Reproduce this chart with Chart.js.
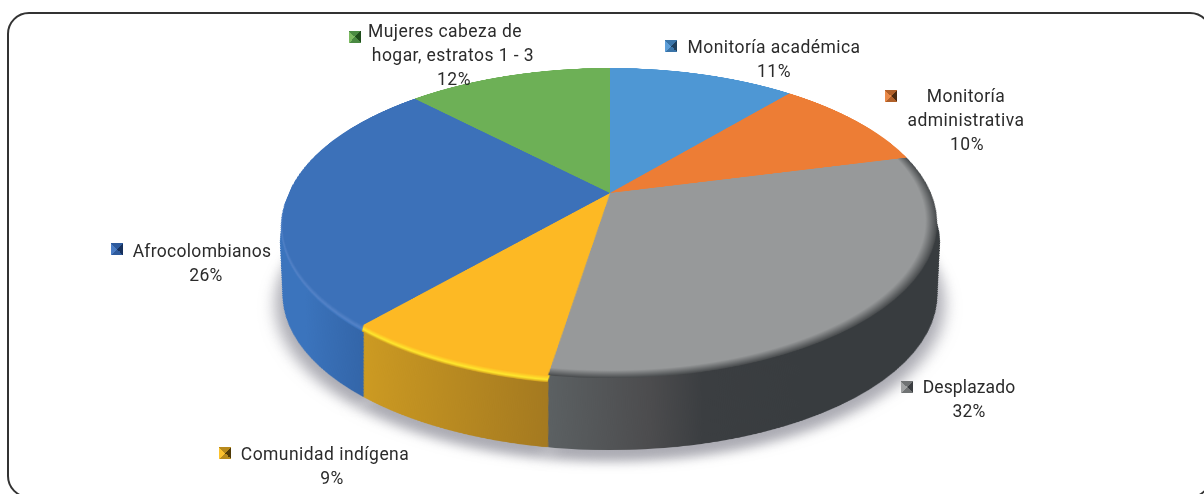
<!DOCTYPE html>
<html><head><meta charset="utf-8">
<script src="https://cdn.jsdelivr.net/npm/chart.js@4"></script>
<style>
html,body{margin:0;padding:0;background:#fff;width:1204px;height:494px;overflow:hidden}
#frame{position:absolute;left:7px;top:12px;width:1205px;height:486px;border:2.5px solid #333;border-radius:22px;box-sizing:border-box}
canvas{position:absolute;left:0;top:0;transform-origin:0 0}
.t{position:absolute;font-family:"Roboto",sans-serif;font-size:17.5px;line-height:24px;color:#2b2b2b;white-space:nowrap;transform:translate(-50%,-50%)}
.m{position:absolute;width:12px;height:12px;transform:translate(-50%,-50%)}
</style></head><body>
<div id="frame"></div>
<canvas id="wall" width="1120" height="1120"></canvas>
<canvas id="face" width="1120" height="1120"></canvas>
<script>
const categories=[["Monitoría académica"],["Monitoría","administrativa"],["Desplazado"],["Comunidad indígena"],["Afrocolombianos"],["Mujeres cabeza de","hogar, estratos 1 - 3"]];
const shares=[11.1,9.9,31.5,8.9,26.4,12.2];
const faceColors=["#4e97d4","#ed7d35","#97999a","#fdb924","#3c71b9","#6db056"];
const rimOuter=["#4e97d4","#ed7d35",null,"#d6a41f","#3b74bd","#6db056"];
const rimPeak=["#4e97d4","#ed7d35",null,"#ffe82e","#5583c8","#6db056"];
const markerDark=["#1d3f5e","#4d2a10","#3a3d40","#4f3a08","#16305c","#1f4d1c"];
const markerMid=["#3a74a8","#b0602a","#6f7273","#b88a1c","#2d5a9c","#4a8a42"];
const markerLight=["#5d9ed8","#e98a4a","#a0a2a3","#fcc22e","#4a7cc4","#7cba62"];

// label layout: x centre of each line (percentage last), first line y, marker x, marker y, letter spacing
const labelLayout=[
 [[774,774],47,671,46,.45],
 [[966,966,967],96,891,96,.45],
 [[969,969],387,907,387,.1],
 [[325,332],454,225,453,.45],
 [[202,206],251,117,249,.3],
 [[445,453,454],31,355,37,.45]];

const SIZE=1120,C=560,R=400,PAD=160;
function hom(D){ // projective mapping of the pie plane onto the page, then D px down
  const s=321,a=112,b=193,k=-0.1935/R,cx=610,w0=1-C*k;
  return `matrix3d(${s/R},0,0,0, ${cx*k},${a/R+D*k},0,${k}, 0,0,1,0, ${cx*w0-C*s/R},${b-C*a/R+D*w0},0,${w0})`;
}
function mix(h1,h2,t){const p=h=>[1,3,5].map(i=>parseInt(h.substr(i,2),16));const A=p(h1),B=p(h2);
  return `rgb(${A.map((v,i)=>Math.round(v+(B[i]-v)*t)).join(",")})`;}
function paint(meta,ctx,dy,colorFn,fx){
  ctx.save();ctx.translate(C,dy);ctx.scale(fx||1,1);ctx.translate(-C,0);
  meta.data.forEach((arc,i)=>{const o=arc.options;
    if(colorFn){const c=colorFn(i);if(!c)return;arc.options=Object.assign({},o,{backgroundColor:c});}
    arc.draw(ctx);arc.options=o;});
  ctx.restore();
}
function wallFill(c){
  const i=c.dataIndex,g=c.chart.ctx.createLinearGradient(0,0,SIZE,0);
  const st=(x,col)=>g.addColorStop(Math.max(0,Math.min(1,x/SIZE)),col);
  if(i===2){st(494,"#5c6163");st(600,"#4c4c4e");st(654,"#3b3e41");st(760,"#383c3f");return g;}
  if(i===3){st(300,"#cc9a22");st(494,"#a57a20");return g;}
  if(i===4){st(219,"#3b74bd");st(300,"#3365a8");return g;}
  return "#383c3f";
}
const wallPlugin={id:"wallStack",beforeDatasetsDraw(chart){
  const ctx=chart.ctx,meta=chart.getDatasetMeta(0),off=3000;
  // soft ground shadow: the shape itself is drawn off-canvas, only its shadow lands here
  ctx.save();ctx.shadowColor="rgba(95,95,110,.52)";ctx.shadowBlur=18;ctx.shadowOffsetX=off;
  ctx.translate(-off,0);paint(meta,ctx,20,null,1.012);ctx.restore();
  for(let d=0;d<=140;d+=1.5)paint(meta,ctx,-d,null,1+.226*d/R);
  return false;
}};
const rimPlugin={id:"rim",beforeDatasetsDraw(chart){
  const ctx=chart.ctx,meta=chart.getDatasetMeta(0);
  for(let d=12;d>=1;d--){const t=(12-d)/11;
    paint(meta,ctx,d,i=>{if(!rimPeak[i])return null;
      return t<.35?mix(rimOuter[i],rimPeak[i],t/.35):mix(rimPeak[i],faceColors[i],(t-.35)/.65);});}
}};
function faceFill(c){
  if(c.dataIndex!==2)return faceColors[c.dataIndex];
  const g=c.chart.ctx.createRadialGradient(C,C,0,C,C,R);
  g.addColorStop(0,"#97999a");g.addColorStop(.965,"#97999a");g.addColorStop(1,"#46494b");return g;
}
function makePie(id,fill,plugin){
  return new Chart(document.getElementById(id),{type:"pie",
    data:{labels:categories.map(l=>l.join(" ")),datasets:[{data:shares,backgroundColor:fill,borderWidth:0}]},
    options:{responsive:false,animation:false,devicePixelRatio:1,layout:{padding:PAD},rotation:0,
      plugins:{legend:{display:false},tooltip:{enabled:false}}},plugins:[plugin]});
}
document.getElementById("wall").style.transform=hom(72);
document.getElementById("face").style.transform=hom(0);
makePie("wall",wallFill,wallPlugin);
makePie("face",faceFill,rimPlugin);

categories.forEach((lines,i)=>{
  const [xs,y,mx,my,ls]=labelLayout[i];
  [...lines,Math.round(shares[i])+"%"].forEach((txt,j)=>{
    const d=document.createElement("div");d.className="t";d.textContent=txt;
    d.style.left=xs[j]+"px";d.style.top=(y+j*24)+"px";d.style.letterSpacing=ls+"px";document.body.appendChild(d);
  });
  const m=document.createElement("div");m.className="m";m.style.left=mx+"px";m.style.top=my+"px";
  m.style.background=`conic-gradient(from 45deg,${markerDark[i]} 0 25%,${markerMid[i]} 25% 50%,${markerLight[i]} 50% 75%,${markerMid[i]} 75% 100%)`;
  document.body.appendChild(m);
});
</script></body></html>
